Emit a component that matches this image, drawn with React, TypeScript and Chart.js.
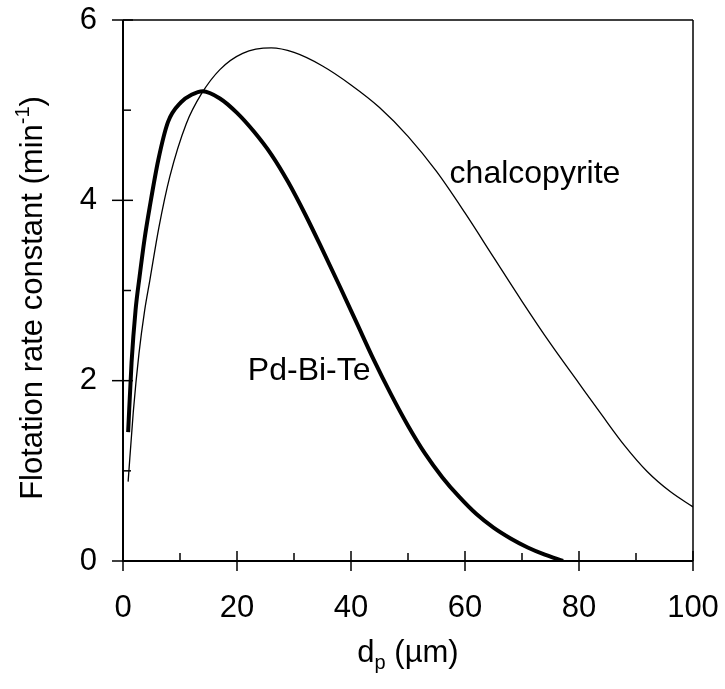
import React, { useEffect, useRef } from "react";
import { Chart, registerables } from "chart.js";

Chart.register(...registerables);

// ---- Data ----
const pdBiTeX = [0.9, 1.5, 2.2, 2.9, 3.8, 4.7, 6.2, 7.9, 10.2, 12, 14, 17, 20, 23, 26, 29, 32, 35, 38, 41, 44, 47, 50, 53, 56, 59, 62, 65, 68, 71, 74, 77.2];
const pdBiTeY = [1.43, 2.2, 2.78, 3.15, 3.58, 3.93, 4.45, 4.87, 5.09, 5.17, 5.21, 5.13, 4.97, 4.76, 4.51, 4.2, 3.84, 3.45, 3.05, 2.64, 2.23, 1.85, 1.5, 1.19, 0.93, 0.71, 0.52, 0.37, 0.25, 0.15, 0.07, 0.0];

const chalcoX = [0.9, 1.8, 2.8, 3.8, 4.7, 6.3, 8.2, 11.1, 13.75, 17, 21, 26, 30, 35, 40, 45, 50, 55, 60, 65, 70, 75, 80, 84, 88, 92, 96, 100];
const chalcoY = [0.88, 1.65, 2.3, 2.78, 3.11, 3.7, 4.26, 4.85, 5.18, 5.45, 5.63, 5.69, 5.64, 5.49, 5.28, 5.03, 4.71, 4.32, 3.86, 3.37, 2.88, 2.41, 1.97, 1.62, 1.28, 0.99, 0.77, 0.6];

const xMin = 0, xMax = 100, xStep = 20, xMinorStep = 10;
const yMin = 0, yMax = 6, yStep = 2, yMinorStep = 1;

const seriesLabels = ["Pd-Bi-Te", "chalcopyrite"];
// annotation anchors in data coordinates (left / baseline)
const annotations = [
  { text: "chalcopyrite", x: 57.3, y: 4.19 },
  { text: "Pd-Bi-Te", x: 21.9, y: 2.01 },
];

const FONT = "'Liberation Sans', Arial, Helvetica, sans-serif";

const toPts = (xs: number[], ys: number[]) => xs.map((x, i) => ({ x, y: ys[i] }));

const zeroPad = (s: any) => {
  s.paddingTop = 0;
  s.paddingBottom = 0;
  s.paddingLeft = 0;
  s.paddingRight = 0;
};

const decorPlugin = {
  id: "decor",
  afterDraw(chart: any) {
    const { ctx, chartArea: ca, scales } = chart;
    const xs = scales.x;
    const ys = scales.y;
    const seg = (x1: number, y1: number, x2: number, y2: number) => {
      ctx.beginPath();
      ctx.moveTo(x1, y1);
      ctx.lineTo(x2, y2);
      ctx.stroke();
    };
    ctx.save();
    ctx.strokeStyle = "#000";
    ctx.fillStyle = "#000";
    // frame
    ctx.lineWidth = 2;
    seg(ca.left, ca.top, ca.left, ca.bottom + 1);
    seg(ca.left - 1, ca.bottom, ca.right, ca.bottom);
    ctx.lineWidth = 1.5;
    seg(ca.left, ca.top, ca.right, ca.top);
    seg(ca.right, ca.top, ca.right, ca.bottom);
    // y ticks
    for (let v = yMin; v <= yMax + 1e-9; v += yMinorStep) {
      const py = ys.getPixelForValue(v);
      const major = Math.abs(v / yStep - Math.round(v / yStep)) < 1e-6;
      if (major) seg(ca.left - 11, py, ca.left + 10, py);
      else seg(ca.left, py, ca.left + 8, py);
    }
    // x ticks
    for (let v = xMin; v <= xMax + 1e-9; v += xMinorStep) {
      const px = xs.getPixelForValue(v);
      const major = Math.abs(v / xStep - Math.round(v / xStep)) < 1e-6;
      if (major) seg(px, ca.bottom - 10, px, ca.bottom + 10);
      else seg(px, ca.bottom, px, ca.bottom - 8);
    }
    // x axis title: d_p (µm)
    ctx.textBaseline = "alphabetic";
    ctx.textAlign = "left";
    const big = `31px ${FONT}`;
    const small = `20px ${FONT}`;
    ctx.font = big;
    const wD = ctx.measureText("d").width;
    const wRest = ctx.measureText(" (\u00b5m)").width;
    ctx.font = small;
    const wP = ctx.measureText("p").width;
    const total = wD + wP + wRest;
    const cx = (ca.left + ca.right) / 2;
    let tx = cx - total / 2;
    const by = 662;
    ctx.font = big;
    ctx.fillText("d", tx, by);
    tx += wD;
    ctx.font = small;
    ctx.fillText("p", tx, by + 7);
    tx += wP;
    ctx.font = big;
    ctx.fillText(" (\u00b5m)", tx, by);

    // y axis title, rotated
    ctx.save();
    ctx.translate(42, 298);
    ctx.rotate(-Math.PI / 2);
    ctx.font = big;
    const t1 = "Flotation rate constant (min";
    const w1 = ctx.measureText(t1).width;
    const w3 = ctx.measureText(")").width;
    ctx.font = small;
    const w2 = ctx.measureText("-1").width;
    const tot = w1 + w2 + w3;
    let yx = -tot / 2;
    ctx.font = big;
    ctx.fillText(t1, yx, 0);
    yx += w1;
    ctx.font = small;
    ctx.fillText("-1", yx, -13);
    yx += w2;
    ctx.font = big;
    ctx.fillText(")", yx, 0);
    ctx.restore();

    // annotations
    ctx.font = `32px ${FONT}`;
    for (const a of annotations) {
      ctx.fillText(a.text, xs.getPixelForValue(a.x), ys.getPixelForValue(a.y));
    }
    ctx.restore();
  },
};

export default function App() {
  const ref = useRef<HTMLCanvasElement | null>(null);
  useEffect(() => {
    if (!ref.current) return;
    const chart = new Chart(ref.current, {
      type: "scatter",
      data: {
        datasets: [
          {
            label: seriesLabels[1],
            data: toPts(chalcoX, chalcoY),
            showLine: true,
            borderColor: "#000",
            borderWidth: 1.3,
            pointRadius: 0,
            cubicInterpolationMode: "monotone",
          },
          {
            label: seriesLabels[0],
            data: toPts(pdBiTeX, pdBiTeY),
            showLine: true,
            borderColor: "#000",
            borderWidth: 4,
            pointRadius: 0,
            cubicInterpolationMode: "monotone",
            borderCapStyle: "butt",
            borderJoinStyle: "round",
          },
        ],
      },
      options: {
        animation: false,
        responsive: false,
        maintainAspectRatio: false,
        devicePixelRatio: 1,
        layout: { padding: { left: 0, right: 32, top: 20, bottom: 0 } },
        plugins: { legend: { display: false }, tooltip: { enabled: false } },
        scales: {
          x: {
            type: "linear",
            min: xMin,
            max: xMax,
            grid: { display: false, drawTicks: false },
            border: { display: false },
            ticks: { stepSize: xStep, padding: 29, color: "#000", font: { family: FONT, size: 31 } },
            afterFit: (s: any) => { s.height = 128; zeroPad(s); },
          },
          y: {
            type: "linear",
            min: yMin,
            max: yMax,
            grid: { display: false, drawTicks: false },
            border: { display: false },
            ticks: { stepSize: yStep, padding: 26, color: "#000", font: { family: FONT, size: 31 } },
            afterFit: (s: any) => { s.width = 123; zeroPad(s); },
          },
        },
      },
      plugins: [decorPlugin],
    });
    return () => chart.destroy();
  }, []);
  return (
    <div style={{ position: "absolute", left: 0, top: 0, width: 725, height: 689, background: "#fff" }}>
      <canvas ref={ref} width={725} height={689} style={{ width: 725, height: 689 }} />
    </div>
  );
}
